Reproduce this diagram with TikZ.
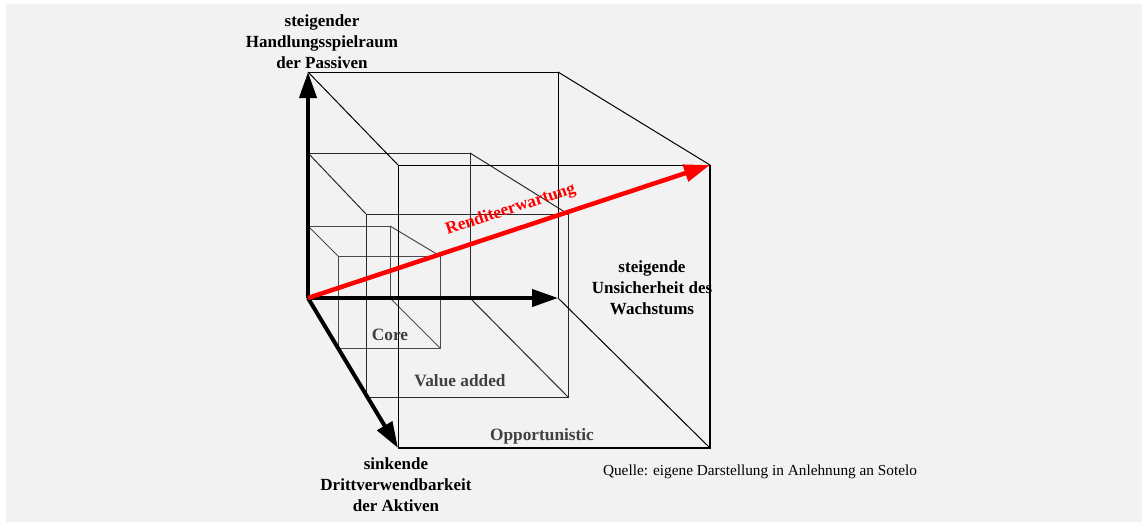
\documentclass[tikz,border=0pt]{standalone}
\usepackage{fontspec}
\setmainfont{Liberation Serif}
\usetikzlibrary{arrows.meta}
\definecolor{paper}{HTML}{F2F2F2}
\definecolor{boxgray}{HTML}{404040}
\definecolor{midline}{HTML}{2A2A2A}
\definecolor{smallline}{HTML}{4A4A4A}
\begin{document}
\begin{tikzpicture}[x=1pt,y=-1pt,
  axislabel/.style={align=center,font=\fontsize{17}{21}\selectfont\bfseries,text=black,inner sep=0pt},
  boxlabel/.style={font=\fontsize{17.3}{20}\selectfont\bfseries,text=boxgray,inner sep=0pt},
  bigcube/.style={draw=black,line width=1pt},
  bigfront/.style={draw=black,line width=2pt},
  midcube/.style={draw=midline,line width=1pt},
  smallcube/.style={draw=smallline,line width=1pt},
  axis/.style={draw=black,line width=4pt,-{Triangle[length=26pt,width=17pt]}},
  yield/.style={draw=red,line width=4.5pt,-{Triangle[length=26pt,width=17pt]}}]
\useasboundingbox (0,0) rectangle (1142,522);
\fill[white] (0,0) rectangle (1142,522);
\fill[paper] (6,4) rectangle (1142,522);

% origin of the three axes
\coordinate (O) at (308,298);

% large cube (Opportunistic)
\coordinate (LB1) at (308,72);
\coordinate (LB2) at (558,72);
\coordinate (LB3) at (558,298);
\coordinate (LF1) at (398,165);
\coordinate (LF2) at (710,165);
\coordinate (LF3) at (710,448);
\coordinate (LF4) at (398,448);

% medium cube (Value added)
\coordinate (MB1) at (308,153);
\coordinate (MB2) at (470,153);
\coordinate (MB3) at (470,298);
\coordinate (MF1) at (366,214);
\coordinate (MF2) at (568,214);
\coordinate (MF3) at (568,397);
\coordinate (MF4) at (366,397);

% small cube (Core)
\coordinate (SB1) at (308,226);
\coordinate (SB2) at (390,226);
\coordinate (SB3) at (390,298);
\coordinate (SF1) at (338,256);
\coordinate (SF2) at (440,256);
\coordinate (SF3) at (440,348);
\coordinate (SF4) at (338,348);

% small cube
\draw[smallcube] (SB1) -- (SB2) -- (SB3);
\draw[smallcube] (SB1) -- (SF1);
\draw[smallcube] (SB2) -- (SF2);
\draw[smallcube] (SB3) -- (SF3);
\draw[smallcube] (SF1) -- (SF2) -- (SF3) -- (SF4) -- cycle;

% medium cube
\draw[midcube] (MB1) -- (MB2) -- (MB3);
\draw[midcube] (MB1) -- (MF1);
\draw[midcube] (MB2) -- (MF2);
\draw[midcube] (MB3) -- (MF3);
\draw[midcube] (MF1) -- (MF2) -- (MF3) -- (MF4) -- cycle;

% large cube
\draw[bigcube] (LB1) -- (LB2) -- (LB3);
\draw[bigcube] (LB1) -- (LF1);
\draw[bigcube] (LB2) -- (LF2);
\draw[bigcube] (LB3) -- (LF3);
\draw[bigcube] (LF4) -- (LF1) -- (LF2);
\draw[bigfront] (LF2) -- (LF3) -- (LF4);

% axes
\draw[axis] (O) -- (LB1);
\draw[axis] (O) -- (LB3);
\draw[axis] (O) -- (LF4);

% expected return
\draw[yield] (O) -- (LF2)
  node[pos=0.52,sloped,above=10pt,inner sep=0pt,text=red,font=\fontsize{17.3}{20}\selectfont\bfseries] (ret) {Renditeerwartung};

% axis labels
\node[axislabel] (passiv) at (322,42) {steigender\\Handlungsspielraum\\der Passiven};
\node[axislabel] (wachs) at (652,288) {steigende\\Unsicherheit des\\Wachstums};
\node[axislabel] (aktiv) at (396,485) {sinkende\\Drittverwendbarkeit\\der Aktiven};

% cube labels
\node[boxlabel] (core) at (390,335) {Core};
\node[boxlabel] (va) at (460,381) {Value added};
\node[boxlabel] (opp) at (542,436) {Opportunistic};

% source
\node[inner sep=0pt,font=\fontsize{15.3}{18}\selectfont] (src) at (760,472) {Quelle: eigene Darstellung in Anlehnung an Sotelo};
\end{tikzpicture}
\end{document}
